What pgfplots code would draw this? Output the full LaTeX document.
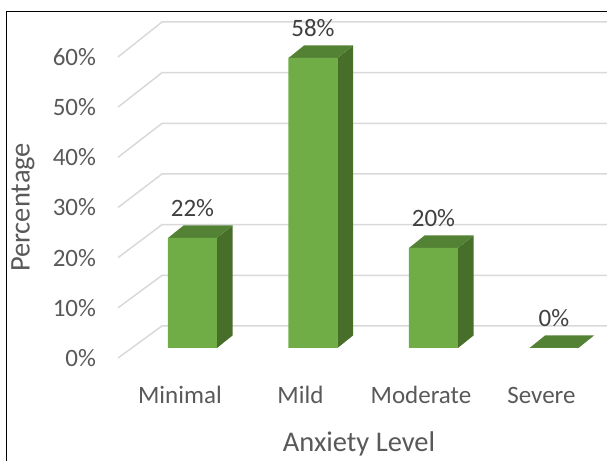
\documentclass[border=0pt]{standalone}
\usepackage{pgfplots}
\pgfplotsset{compat=1.18}
\usepackage{fontspec}
\setmainfont{Carlito}
\definecolor{txt}{HTML}{595959}
\definecolor{lbl}{HTML}{404040}
\definecolor{gridc}{HTML}{D9D9D9}
\definecolor{front}{HTML}{70AD47}
\definecolor{topc}{HTML}{548235}
\definecolor{sidec}{HTML}{476F2A}
\begin{document}
\begin{tikzpicture}
\begin{axis}[
  at={(118bp,103bp)}, anchor=south west,
  scale only axis, width=489bp, height=358bp,
  xmin=-0.618, xmax=3.44, ymin=-2, ymax=69.6,
  clip=false,
  /pgf/number format/assume math mode=true,
  axis line style={draw=none},
  major tick length=0pt,
  xtick={-0.104,0.896,1.896,2.896},
  xticklabels={Minimal,Mild,Moderate,Severe},
  ytick={-2,8.03,18.07,28.1,38.13,48.17,58.2},
  yticklabels={0\%,10\%,20\%,30\%,40\%,50\%,60\%},
  xticklabel style={font=\fontsize{25bp}{30bp}\selectfont, text=txt, anchor=base, yshift=-45bp},
  yticklabel style={font=\fontsize{25bp}{30bp}\selectfont, text=txt, anchor=east, xshift=-18.5bp},
  xlabel={Anxiety Level},
  ylabel={Percentage},
  xlabel style={font=\fontsize{28.5bp}{34bp}\selectfont, text=txt, at={(rel axis cs:0.4928,-0.2598)}, anchor=base},
  ylabel style={font=\fontsize{28.5bp}{34bp}\selectfont, text=txt, at={(rel axis cs:-0.1943,0.4204)}, anchor=center, rotate=0},
]
% gridlines (floor diagonal + back wall)
\addplot[gridc, line width=1.5bp] coordinates {(-0.618,-2) (-0.253,4.4) (3.44,4.4)};
\addplot[gridc, line width=1.5bp] coordinates {(-0.618,8.03) (-0.253,14.53) (3.44,14.53)};
\addplot[gridc, line width=1.5bp] coordinates {(-0.618,18.07) (-0.253,24.67) (3.44,24.67)};
\addplot[gridc, line width=1.5bp] coordinates {(-0.618,28.1) (-0.253,34.8) (3.44,34.8)};
\addplot[gridc, line width=1.5bp] coordinates {(-0.618,38.13) (-0.253,44.93) (3.44,44.93)};
\addplot[gridc, line width=1.5bp] coordinates {(-0.618,48.17) (-0.253,55.07) (3.44,55.07)};
\addplot[gridc, line width=1.5bp] coordinates {(-0.618,58.2) (-0.253,65.2) (3.44,65.2)};
% side faces
\addplot[fill=sidec, draw=none] coordinates {(0.2033,0) (0.3323,2.5) (0.3323,24.5) (0.2033,22)} -- cycle;
\addplot[fill=sidec, draw=none] coordinates {(1.2033,0) (1.3323,2.5) (1.3323,60.5) (1.2033,58)} -- cycle;
\addplot[fill=sidec, draw=none] coordinates {(2.2033,0) (2.3323,2.5) (2.3323,22.5) (2.2033,20)} -- cycle;
% top faces
\addplot[fill=topc, draw=none] coordinates {(-0.2033,22) (0.2033,22) (0.3323,24.5) (-0.0743,24.5)} -- cycle;
\addplot[fill=topc, draw=none] coordinates {(0.7967,58) (1.2033,58) (1.3323,60.5) (0.9257,60.5)} -- cycle;
\addplot[fill=topc, draw=none] coordinates {(1.7967,20) (2.2033,20) (2.3323,22.5) (1.9257,22.5)} -- cycle;
\addplot[fill=topc, draw=none] coordinates {(2.7967,0) (3.2033,0) (3.3323,2.5) (2.9257,2.5)} -- cycle;
% front faces with labels
\addplot[ybar, bar width=0.4066, fill=front, draw=none,
  nodes near coords={\pgfmathprintnumber[assume math mode=true]{\pgfplotspointmeta}\%},
  nodes near coords style={font=\fontsize{25bp}{30bp}\selectfont, text=lbl, anchor=center, yshift=29.5bp}]
  coordinates {(0,22) (1,58) (2,20) (3,0)};
\end{axis}
\draw[black, line width=1.3bp] (6.5bp,0) -- (6.5bp,449.5bp) -- (607bp,449.5bp);
\pgfresetboundingbox
\path (0,0) rectangle (607bp,461bp);
\end{tikzpicture}
\end{document}
